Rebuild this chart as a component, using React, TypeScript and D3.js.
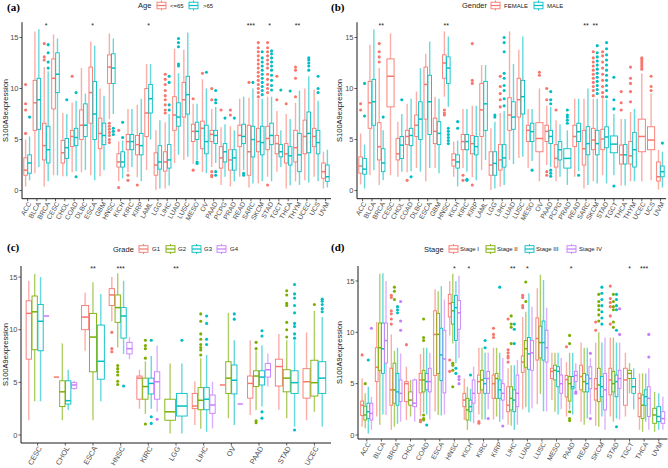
import React from "react";
import * as d3 from "d3";

const RED = "#F8766D", GREEN = "#7CAE00", CYAN = "#00BFC4", PURPLE = "#C77CFF";

type S = number[] | null;
type Out = [string, number[]][];

// ---------- Panel (a) / (b) categories ----------
const PANCAN = ["ACC","BLCA","BRCA","CESC","CHOL","COAD","DLBC","ESCA","GBM","HNSC","KICH","KIRC","KIRP","LAML","LGG","LIHC","LUAD","LUSC","MESO","OV","PAAD","PCPG","PRAD","READ","SARC","SKCM","STAD","TGCT","THCA","THYM","UCEC","UCS","UVM"];

// [lower whisker, Q1, median, Q3, upper whisker]
const AGE_LOW: S[] = [
  [0.4,1.5,2.0,3.2,5.0],[1.7,5.9,8.6,10.8,15.6],[0.4,3.0,4.4,6.6,12.1],[1.5,8.0,11.0,12.9,15.3],
  [1.4,2.7,3.7,4.9,7.6],[1.8,4.3,5.3,5.9,8.6],[1.8,5.0,6.4,7.9,12.0],[1.5,6.6,9.6,12.1,14.6],
  [1.4,4.1,5.6,7.1,10.0],[7.0,10.5,12.1,13.3,15.4],[0.9,2.3,2.8,3.6,4.8],[1.8,4.0,4.8,5.5,8.0],
  [1.3,3.5,4.5,5.4,8.4],[2.0,5.3,7.6,10.0,12.4],[0.05,1.5,2.5,3.7,5.9],[0.2,1.9,2.8,3.8,6.7],
  [2.7,5.9,7.4,9.2,13.9],[3.0,7.2,8.9,10.6,13.8],[2.6,4.8,5.8,6.5,8.5],[1.8,4.1,6.1,6.8,10.9],
  [2.3,4.8,5.5,5.9,8.0],[0.55,2.2,3.2,4.3,6.2],[0.4,2.0,3.0,4.0,6.3],[1.35,4.3,5.4,6.4,9.0],
  [0.3,1.5,3.8,6.4,9.1],[0.7,3.8,4.8,6.1,9.0],[1.35,4.0,5.1,6.3,9.2],[1.85,3.6,4.6,5.4,7.8],
  [0.2,2.7,3.6,4.6,7.5],[0.9,2.8,4.2,5.9,8.6],[1.0,3.6,5.3,6.9,10.0],[1.35,4.3,5.3,6.1,9.9],
  [0.2,1.2,1.85,2.7,3.8]
];
const AGE_HIGH: S[] = [
  [1.0,1.7,2.7,3.5,5.3],[2.3,6.0,8.9,11.0,15.8],[0.9,2.7,4.0,6.3,11.7],[1.5,9.6,11.4,13.5,14.9],
  [1.4,3.15,4.2,5.1,7.5],[1.9,4.4,5.2,6.1,8.8],[2.0,5.3,6.4,8.5,9.5],[1.0,5.0,7.5,10.7,14.2],
  [2.0,4.5,5.4,6.6,9.3],[7.5,10.5,12.0,13.4,14.9],[1.2,2.3,2.8,3.8,4.9],[2.3,4.0,4.8,5.5,8.0],
  [0.9,3.5,4.4,5.6,9.0],[5.0,7.6,9.0,10.4,12.4],[0.2,2.1,2.8,4.4,6.9],[0.5,2.2,3.0,4.5,7.5],
  [3.5,6.3,7.2,8.6,11.5],[3.3,7.5,9.4,11.2,15.5],[3.0,5.0,5.8,6.7,8.5],[1.7,3.6,4.8,6.4,10.0],
  [2.7,4.6,5.4,5.9,8.2],[1.35,2.8,3.8,4.6,6.5],[0.9,2.0,3.2,4.0,5.9],[2.0,4.6,5.3,6.5,9.2],
  [0.7,3.3,5.0,6.3,10.0],[0.9,3.5,4.7,6.3,9.0],[0.9,4.5,5.4,6.6,9.2],[2.3,3.3,3.8,4.5,5.9],
  [0.5,2.5,3.4,4.3,7.0],[0.55,1.85,3.5,5.6,9.8],[0.8,3.7,5.6,7.7,11.2],[0.9,3.6,4.7,5.9,8.8],
  [0.3,0.9,1.35,2.5,4.0]
];
const AGE_LOW_OUT: Out = [
  ["ACC",[5.6,7.9,8.5,10.4]],["BRCA",[12.8,13.1,14.4]],["COAD",[11.2]],
  ["HNSC",[6.6,6.3,6.0,5.7,5.4,5.0,4.7]],["KICH",[0.3,5.9]],["KIRC",[1.5,1.0]],["KIRP",[0.55]],
  ["LIHC",[7.6,7.9,8.4,8.9,9.3,9.8,10.4,10.9,11.4]],["MESO",[9.0,2.0]],["OV",[11.5]],
  ["PAAD",[1.85,1.5,1.35,8.9,10.0]],["PCPG",[7.9]],["PRAD",[7.4,7.9]],["SARC",[10.6]],
  ["SKCM",[9.2,9.6,10.0,10.4,10.8,11.2,11.6,12.0,12.4,12.8,13.2,13.6,14.0,14.5]],
  ["STAD",[0.55,9.6,10.0,10.4,10.9,11.4,12.0,12.4,12.8,13.2,13.6,14.0,14.5]],["TGCT",[8.9,11.2]],["THCA",[8.5]],
  ["THYM",[9.2,11.0,11.8,12.1]]
];
const AGE_HIGH_OUT: Out = [
  ["ACC",[7.2]],["BRCA",[12.0,12.6,13.5,14.3]],["CHOL",[8.9]],["COAD",[1.35,9.6]],
  ["HNSC",[6.1,5.8,5.5]],["KICH",[6.7,5.2]],["LIHC",[7.9,8.4,10.6,11.2]],
  ["LUAD",[12.2,12.4,14.1,14.5,14.9]],["MESO",[2.8,2.66]],["OV",[11.6]],
  ["PAAD",[1.85,1.5,8.6,8.9,9.8]],["PCPG",[7.1]],["PRAD",[7.1]],["READ",[1.7,1.5]],["SARC",[10.6]],
  ["SKCM",[9.4,9.8,10.2,10.6,11.0,11.4,11.8,12.2,12.6,13.0,13.6]],
  ["STAD",[9.85,10.3,10.8,11.3,11.8,12.2,12.6,13.0,13.4,13.7]],["TGCT",[9.85]],["THCA",[9.75]],
  ["UCEC",[11.8,12.2,12.5,12.8,13.0]],["UCS",[9.6,10.0,11.2]]
];
const SIG_AGE: [string, string][] = [["BRCA","*"],["ESCA","*"],["LAML","*"],["SARC","***"],["STAD","*"],["THYM","**"]];

const FEMALE: S[] = [
  [0.6,1.7,2.4,3.3,5.6],[1.5,6.1,8.6,10.7,14.3],[0.55,3.0,4.3,6.65,12.0],[1.5,8.2,11.2,12.9,15.4],
  [1.35,3.0,3.6,5.1,6.75],[1.8,4.5,5.3,5.9,8.5],[2.2,5.3,6.4,7.4,9.7],[0.9,7.0,10.4,12.1,13.4],
  [2.2,4.6,5.8,7.1,9.2],[9.2,11.0,12.5,13.3,15.6],[1.35,2.4,3.0,3.6,4.8],[2.2,4.0,4.8,5.5,8.0],
  [1.3,3.6,4.6,5.4,8.3],[2.0,5.3,7.9,10.5,12.3],[0.05,1.5,2.5,3.8,6.1],[0.4,2.0,3.0,4.5,7.6],
  [3.0,5.9,7.4,9.1,15.6],[3.2,7.2,8.9,11.0,13.8],[2.2,4.8,5.9,6.4,8.0],[0.9,3.8,5.1,6.65,10.0],
  [2.5,4.8,5.8,6.4,8.3],[0.9,2.3,3.15,4.5,6.9],null,[1.35,4.3,5.3,6.4,9.0],
  [0.2,2.5,4.1,5.9,9.0],[0.9,4.0,4.95,6.1,9.0],[1.5,4.0,5.05,6.0,9.0],null,
  [0.5,2.6,3.5,4.46,7.0],[0.9,2.6,3.4,4.8,7.7],[0.9,3.8,5.3,7.0,11.5],[1.0,4.0,4.95,6.25,9.5],
  [0.1,0.93,1.35,2.8,4.0]
];
const MALE: S[] = [
  [0.2,1.6,2.1,3.15,4.5],[2.0,6.4,8.7,10.9,15.8],[1.0,1.85,2.7,4.1,5.9],null,
  [1.85,3.15,4.45,5.3,7.5],[1.9,4.4,5.4,6.1,9.0],[1.85,5.0,7.0,8.7,12.0],[2.2,5.5,8.7,11.3,14.6],
  [1.7,4.5,5.6,6.75,9.0],[8.2,10.5,12.0,13.1,15.1],[0.4,2.2,2.8,3.5,4.9],[1.85,4.0,4.8,5.5,8.0],
  [1.0,3.5,4.3,5.3,8.3],[3.0,5.9,8.5,10.7,12.3],[0.2,1.5,2.66,3.8,6.75],[0.55,2.3,3.2,4.5,7.8],
  [2.6,6.0,7.2,8.7,12.4],[3.3,7.5,9.2,10.8,15.1],[2.9,4.8,5.77,6.6,8.0],null,
  [2.3,4.6,5.3,5.9,8.2],[1.35,3.0,4.0,4.8,6.5],[0.55,2.2,3.15,4.1,5.9],[1.9,4.8,5.77,6.6,9.0],
  [0.55,3.5,4.6,6.26,10.0],[0.7,3.5,4.6,5.9,9.0],[0.7,4.2,5.25,6.25,8.9],[1.5,3.7,4.55,5.35,7.5],
  [0.5,2.6,3.5,4.5,7.0],[0.9,2.3,4.0,5.7,8.0],null,null,
  [0.3,1.35,1.85,2.4,3.8]
];
const FEMALE_OUT: Out = [
  ["ACC",[7.9,8.5]],["BRCA",[12.6,13.1,13.6,14.4]],["COAD",[1.0]],["HNSC",[7.4,7.6,7.9]],
  ["KIRC",[1.5,1.0]],["KIRP",[0.55,10.5,10.8,14.4]],["LIHC",[8.2,8.9,9.5,10.2,11.2]],
  ["OV",[11.3,11.6]],["PAAD",[1.85,1.5,8.9,10.0]],["PCPG",[7.9]],
  ["SKCM",[9.3,9.8,10.2,10.6,11.0,11.4,11.8,12.2,12.6,13.0,13.6]],
  ["STAD",[9.2,9.6,10.2,10.8,11.4,12.0,12.6,13.2,13.6]],["THCA",[7.9,8.6,9.7]],
  ["THYM",[8.7,9.7,10.5,11.0,12.1]],["UCEC",[11.9,12.1,12.3,12.5,12.7,12.9,13.0]],["UCS",[9.8,10.2,11.2]]
];
const MALE_OUT: Out = [
  ["ACC",[7.3,10.5]],["BRCA",[7.2]],["CHOL",[8.9]],["COAD",[1.35]],["HNSC",[6.1,5.8,5.5,5.2,4.9,4.6]],
  ["KICH",[6.75,6.1]],["KIRC",[1.0,1.1]],["LGG",[7.2,7.4]],
  ["LIHC",[8.3,9.0,9.8,10.3,11.0,11.5,13.6,14.5,15.0]],["MESO",[2.0]],
  ["PAAD",[2.0,1.7,1.4,8.5,8.9,9.7]],["PRAD",[6.6,6.9,7.2,7.4,7.9]],["READ",[1.5]],
  ["SKCM",[9.5,9.9,10.3,10.7,11.1,11.5,11.9,12.3,12.7,13.1,13.5,14.2]],
  ["STAD",[9.2,9.8,10.3,10.8,11.3,11.8,12.3,12.8,13.3,13.9,14.5]],["TGCT",[0.45,8.0,8.9,11.1]],["UVM",[4.65]]
];
const SIG_GENDER: [string, string][] = [["BRCA","**"],["HNSC","**"],["SARC","**"],["SKCM","**"]];

// ---------- Panel (c) ----------
const GRADE_CATS = ["CESC","CHOL","ESCA","HNSC","KIRC","LGG","LIHC","OV","PAAD","STAD","UCEC"];
const G1: S[] = [
  [1.4,7.2,11.55,12.75,14.65],[5.5,5.5,5.5,5.5,5.5],[8.0,10.0,11.2,12.3,13.5],[10.8,12.3,13.3,13.9,15.0],
  [2.5,3.4,5.4,5.6,6.2],null,[0.95,2.5,2.75,3.95,5.1],[4.75,4.75,4.75,4.75,4.75],
  [1.9,3.5,4.9,5.6,9.0],[2.4,4.65,6.5,7.2,9.6],[1.4,3.5,5.06,6.3,9.75]
];
const G2: S[] = [
  [3.2,8.1,11.7,13.2,15.3],[1.4,2.7,4.1,5.15,8.7],[1.4,6.0,9.3,11.55,14.5],[8.3,10.7,12.1,13.3,15.35],
  [2.0,3.4,4.6,5.4,7.0],[0.15,1.4,2.2,3.4,6.8],[0.6,2.4,3.3,4.5,7.3],[1.6,3.95,5.4,6.96,11.6],
  [2.37,4.6,5.6,6.1,8.0],[1.6,4.1,5.4,6.2,9.0],[2.2,3.7,4.97,7.1,11.8]
];
const G3: S[] = [
  [3.2,8.0,10.8,12.4,15.0],[2.37,2.94,3.26,5.15,6.2],[3.2,5.3,7.0,10.44,13.4],[7.7,9.2,11.3,12.1,14.65],
  [2.5,3.9,4.9,5.4,7.5],[0.15,1.8,2.75,3.95,6.8],[0.3,2.4,3.4,4.5,7.6],[0.95,3.9,5.2,6.65,9.0],
  [2.7,4.75,5.5,6.1,8.5],[0.8,3.95,4.97,6.1,9.0],[0.8,3.95,5.4,6.96,11.2]
];
const G4: S[] = [
  [11.3,11.3,11.3,11.3,11.3],[4.3,4.43,4.75,4.97,5.15],null,[7.2,7.7,8.2,8.8,9.3],
  [2.2,3.4,5.06,6.0,8.5],null,[0.63,2.05,2.85,3.8,5.06],[2.94,2.94,2.94,2.94,2.94],
  [4.6,5.5,6.2,6.8,7.75],null,null
];
const G1_OUT: Out = [["HNSC",[9.75,8.2,7.9]]];
const G2_OUT: Out = [
  ["HNSC",[6.6,6.3,6.0,5.7,5.1,4.8]],["KIRC",[1.05,7.3,8.2,8.5,9.0]],
  ["LIHC",[7.6,8.07,8.3,8.6,9.1,9.6,10.8,11.5]],["PAAD",[1.36,1.17,8.2,8.8]],
  ["STAD",[9.3,10.0,10.7,12.3,12.5,13.3,13.7]],["UCEC",[12.4]]
];
const G3_OUT: Out = [
  ["HNSC",[4.65]],["KIRC",[1.74,1.1,9.0]],["LGG",[9.0]],["LIHC",[8.6,9.1,10.6,11.3]],["OV",[11.0,11.5]],
  ["PAAD",[2.2,1.6,9.4,9.9]],["STAD",[0.47,9.2,9.6,10.3,10.6,11.6,12.3,13.0,13.4,14.3]],
  ["UCEC",[11.7,12.0,12.4,12.7,12.9]]
];
const G4_OUT: Out = [["KIRC",[1.5]]];
const SIG_GRADE: [string, string][] = [["ESCA","**"],["HNSC","***"],["LGG","**"]];

// ---------- Panel (d) ----------
const STAGE_CATS = ["ACC","BLCA","BRCA","CHOL","COAD","ESCA","HNSC","KICH","KIRC","KIRP","LIHC","LUAD","LUSC","MESO","PAAD","READ","SKCM","STAD","TGCT","THCA","UVM"];
const ST1: S[] = [
  [0.8,1.9,2.9,3.3,5.5],[1.8,5.2,6.6,8.5,11.0],[0.5,2.9,4.4,6.5,9.8],[1.46,3.25,5.0,5.2,6.65],
  [1.8,4.1,5.36,6.0,7.9],[2.3,5.8,9.8,12.1,14.2],[9.7,11.5,12.8,13.7,15.0],[1.46,2.76,3.4,4.06,5.5],
  [2.0,4.06,5.2,5.84,8.5],[1.5,3.57,5.0,5.84,8.5],[1.0,2.27,2.9,4.7,6.5],[2.5,6.1,7.1,7.7,11.5],
  [3.0,7.3,9.4,11.4,14.3],[3.4,5.5,6.2,6.5,8.0],[1.8,3.7,5.4,5.8,7.1],[1.3,4.4,5.7,6.8,9.0],
  [0.9,3.4,4.5,5.5,9.0],[1.8,3.9,5.36,6.5,9.5],[1.8,2.9,5.36,6.5,8.0],[0.5,1.8,3.57,4.06,6.0],null
];
const ST2: S[] = [
  [0.65,1.46,1.95,2.8,4.06],[1.0,6.3,8.5,10.9,15.7],[0.8,3.1,4.4,7.0,8.2],[1.8,2.9,3.4,4.2,5.36],
  [2.2,4.2,5.36,6.3,8.5],[1.95,6.0,9.8,11.85,14.0],[8.9,10.8,12.1,12.9,15.7],[0.5,1.46,2.44,3.57,4.7],
  [1.5,4.4,5.36,6.3,8.5],[1.8,3.57,5.5,6.0,8.5],[0.9,2.44,3.57,4.7,6.8],[2.7,6.6,8.4,9.2,12.0],
  [4.0,7.5,9.0,10.6,15.6],[2.27,5.36,6.3,6.8,8.0],[2.5,3.3,5.0,5.7,8.0],[1.0,4.2,5.2,6.0,8.5],
  [0.8,3.25,4.87,6.5,10.0],[1.3,4.2,5.0,6.2,9.5],[4.06,5.5,6.0,6.3,7.0],[0.3,1.6,2.9,3.9,6.0],
  [0.3,1.14,1.95,2.6,4.2]
];
const ST3: S[] = [
  [0.15,1.6,2.27,3.1,4.7],[2.0,6.0,8.4,10.9,15.75],[1.1,2.9,4.2,6.0,8.5],null,
  [2.0,4.4,5.2,6.0,8.5],[1.9,5.3,7.8,10.4,14.5],[7.0,9.2,12.4,13.6,15.0],[1.3,2.27,2.76,3.4,4.5],
  [1.5,4.06,5.0,5.5,8.0],[1.3,3.57,4.4,5.36,8.0],[0.5,2.27,3.4,4.4,6.8],[2.2,6.4,7.9,9.5,13.8],
  [2.3,7.3,9.0,11.1,15.1],[2.0,4.7,6.2,6.65,8.0],[2.0,4.5,4.7,5.7,8.0],[1.6,4.2,5.0,5.84,8.5],
  [1.8,3.73,4.7,5.7,9.0],[1.6,3.73,5.2,5.84,9.0],[2.5,4.06,4.7,5.5,6.5],[1.3,2.9,3.73,4.4,6.0],
  [0.5,1.3,1.8,2.76,4.06]
];
const ST4: S[] = [
  [0.5,1.46,2.1,3.1,3.7],[1.95,7.0,9.2,10.9,15.0],[1.3,3.25,4.06,5.36,7.95],[1.3,2.76,3.1,5.36,5.5],
  [1.5,4.2,5.2,6.5,8.0],[2.0,4.1,7.4,10.2,13.2],[7.5,10.3,11.9,13.1,15.5],[1.14,3.1,4.06,5.36,6.65],
  [2.5,4.06,5.5,6.2,8.0],[1.5,3.4,4.06,5.0,7.5],[1.0,2.76,4.06,5.84,7.3],[2.6,6.3,8.0,9.2,12.5],
  [2.3,7.1,8.5,10.2,12.4],[2.5,4.06,5.0,5.84,7.5],[4.4,5.2,5.8,6.2,7.0],[2.0,4.5,5.5,6.65,7.5],
  [0.5,2.44,4.4,6.0,9.5],[1.5,4.55,5.5,6.3,9.0],null,[0.5,1.8,3.57,4.7,6.5],
  [0.5,1.14,1.6,2.27,3.73]
];
const ST1_OUT: Out = [
  ["ACC",[7.8]],["BRCA",[10.8,11.3,11.8,12.1,13.4,13.6]],["CHOL",[8.8]],["COAD",[1.46,1.3]],
  ["HNSC",[7.3,6.2]],["KIRC",[1.3,1.14]],["KIRP",[9.5,9.8,10.4]],["LIHC",[7.1,7.5,7.7,8.0,8.3,11.3]],
  ["LUAD",[12.4,12.6,13.4,13.6]],["PAAD",[8.6]],["SKCM",[10.2,11.0]],["STAD",[10.8,11.6,12.5,12.9,13.3,14.5]]
];
const ST2_OUT: Out = [
  ["ACC",[5.0]],["BRCA",[13.2,14.0,14.4]],["COAD",[1.95,1.6,1.46,9.2,9.5,11.3]],["HNSC",[7.0,6.8,6.3,4.7]],
  ["LIHC",[8.9,10.5,10.8,11.6]],["LUAD",[13.0,14.9]],["PAAD",[2.27,1.6,1.4,8.9,9.7]],
  ["SKCM",[11.1,11.7,12.2,12.6,13.0,13.7]],["STAD",[10.5,11.0,12.2,12.5,13.0,13.7]]
];
const ST3_OUT: Out = [
  ["ACC",[7.3]],["BRCA",[11.9,12.2,12.5]],["COAD",[0.97]],["HNSC",[6.5,6.0]],["KICH",[5.84]],
  ["KIRC",[8.5,9.2]],["KIRP",[14.4]],["LIHC",[8.9,10.3,10.8]],
  ["SKCM",[10.8,11.4,12.0,12.6,13.2,13.8,14.4]],["STAD",[0.8,10.2,12.2,12.6,13.2,13.7]]
];
const ST4_OUT: Out = [
  ["ACC",[10.4]],["BRCA",[10.2,11.1,13.0]],["HNSC",[5.7,5.4,5.0]],["KIRC",[1.6]],["KIRP",[0.88]],
  ["PAAD",[4.2,4.06]],["READ",[7.95,1.6]],["STAD",[9.8,12.3]],["THCA",[7.6,9.8]]
];
const SIG_STAGE: [string, string][] = [["HNSC","*"],["KICH","*"],["LIHC","**"],["LUAD","*"],["PAAD","*"],["TGCT","*"],["THCA","***"]];

const Y_TICKS = [0, 5, 10, 15];

type Group = { name: string; color: string; stats: S[]; out: Out };
type Frame = { x0: number; x1: number; yt: number; yb: number; dom: [number, number]; sigY: number; ytx: number; fs: number };
type Legend = { title: string; tx: number; y: number; keys: number[]; texts: number[] };

const SANS = "Liberation Sans, Arial, Helvetica, sans-serif";

function Panel({ tag, tagX, tagY, cats, groups, sig, f, lg }: { tag: string; tagX: number; tagY: number; cats: string[]; groups: Group[]; sig: [string, string][]; f: Frame; lg: Legend }) {
  const x = d3.scalePoint<string>().domain(cats).range([f.x0, f.x1]).padding(0.6);
  const y = d3.scaleLinear().domain(f.dom).range([f.yb, f.yt]);
  const total = x.step() * 0.85;
  const place = (ci: number, gi: number) => {
    const present = groups.map((g, k) => (g.stats[ci] ? k : -1)).filter((k) => k >= 0);
    const slot = total / present.length;
    const j = present.indexOf(gi);
    return { cx: (x(cats[ci]) as number) - total / 2 + slot * (j + 0.5), bw: slot * 0.9 };
  };
  const marks: React.ReactNode[] = [];
  cats.forEach((c, ci) => {
    groups.forEach((g, gi) => {
      const s = g.stats[ci];
      if (!s) return;
      const { cx, bw } = place(ci, gi);
      const [lo, q1, md, q3, hi] = s;
      marks.push(
        <g key={`${c}-${gi}`}>
          <line x1={cx} x2={cx} y1={y(lo)} y2={y(q1)} stroke={g.color} strokeWidth={1.4} strokeOpacity={0.6} />
          <line x1={cx} x2={cx} y1={y(q3)} y2={y(hi)} stroke={g.color} strokeWidth={1.4} strokeOpacity={0.6} />
          <rect x={cx - bw / 2} y={y(q3)} width={bw} height={Math.max(0, y(q1) - y(q3))} fill="white" stroke={g.color} strokeWidth={0.9} />
          <line x1={cx - bw / 2} x2={cx + bw / 2} y1={y(md)} y2={y(md)} stroke={g.color} strokeWidth={1.5} />
        </g>
      );
      const o = g.out.find((d) => d[0] === c);
      if (o) o[1].forEach((v, k) => marks.push(<circle key={`${c}-${gi}-o${k}`} cx={cx} cy={y(v)} r={1.55} fill={g.color} />));
    });
  });
  return (
    <g>
      <text x={tagX} y={tagY} fontFamily="Liberation Serif, Times New Roman, serif" fontWeight="bold" fontSize={11}>{tag}</text>
      <text x={lg.tx} y={lg.y} dy="0.35em" fontFamily={SANS} fontSize={7.5} fill="#222">{lg.title}</text>
      {groups.map((g, i) => (
        <g key={g.name}>
          <line x1={lg.keys[i] + 4.5} x2={lg.keys[i] + 4.5} y1={lg.y - 5} y2={lg.y + 5} stroke={g.color} strokeWidth={0.9} />
          <rect x={lg.keys[i]} y={lg.y - 3.3} width={9} height={6.6} fill="white" stroke={g.color} strokeWidth={0.9} />
          <line x1={lg.keys[i]} x2={lg.keys[i] + 9} y1={lg.y} y2={lg.y} stroke={g.color} strokeWidth={1.2} />
          <text x={lg.texts[i]} y={lg.y} dy="0.35em" fontFamily={SANS} fontSize={6} fill="#222">{g.name}</text>
        </g>
      ))}
      {marks}
      <line x1={f.x0} x2={f.x0} y1={f.yt} y2={f.yb} stroke="#000" strokeWidth={0.9} />
      <line x1={f.x0} x2={f.x1} y1={f.yb} y2={f.yb} stroke="#000" strokeWidth={0.9} />
      {Y_TICKS.map((t) => (
        <g key={t}>
          <line x1={f.x0 - 2.5} x2={f.x0} y1={y(t)} y2={y(t)} stroke="#333" strokeWidth={0.8} />
          <text x={f.x0 - 3.5} y={y(t)} dy="0.35em" textAnchor="end" fontFamily={SANS} fontSize={7.5} fill="#4D4D4D">{t}</text>
        </g>
      ))}
      {cats.map((c) => (
        <g key={c}>
          <line x1={x(c)} x2={x(c)} y1={f.yb} y2={f.yb + 2.5} stroke="#333" strokeWidth={0.8} />
          <text transform={`translate(${x(c)},${f.yb + 2.5}) rotate(-60)`} dy="0.71em" textAnchor="end" fontFamily={SANS} fontSize={f.fs} fill="#4D4D4D">{c}</text>
        </g>
      ))}
      {sig.map(([c, s]) => (
        <text key={c} x={x(c)} y={f.sigY} textAnchor="middle" fontFamily={SANS} fontSize={7} fill="#222">{s}</text>
      ))}
      <text transform={`translate(${f.ytx},${(f.yt + f.yb) / 2}) rotate(-90)`} dy="0.35em" textAnchor="middle" fontFamily={SANS} fontSize={7.5} fill="#222">S100A9expression</text>
    </g>
  );
}

export default function App() {
  const age: Group[] = [
    { name: "<=65", color: RED, stats: AGE_LOW, out: AGE_LOW_OUT },
    { name: ">65", color: CYAN, stats: AGE_HIGH, out: AGE_HIGH_OUT },
  ];
  const gender: Group[] = [
    { name: "FEMALE", color: RED, stats: FEMALE, out: FEMALE_OUT },
    { name: "MALE", color: CYAN, stats: MALE, out: MALE_OUT },
  ];
  const grade: Group[] = [
    { name: "G1", color: RED, stats: G1, out: G1_OUT },
    { name: "G2", color: GREEN, stats: G2, out: G2_OUT },
    { name: "G3", color: CYAN, stats: G3, out: G3_OUT },
    { name: "G4", color: PURPLE, stats: G4, out: G4_OUT },
  ];
  const stage: Group[] = [
    { name: "Stage I", color: RED, stats: ST1, out: ST1_OUT },
    { name: "Stage II", color: GREEN, stats: ST2, out: ST2_OUT },
    { name: "Stage III", color: CYAN, stats: ST3, out: ST3_OUT },
    { name: "Stage IV", color: PURPLE, stats: ST4, out: ST4_OUT },
  ];
  return (
    <svg width={668} height={468} style={{ position: "absolute", left: 0, top: 0, background: "white" }}>
      <rect width={668} height={468} fill="white" />
      <Panel tag="(a)" tagX={7} tagY={11} cats={PANCAN} groups={age} sig={SIG_AGE}
        f={{ x0: 22, x1: 331, yt: 22.2, yb: 198.7, dom: [-0.8, 16.5], sigY: 27.5, ytx: 5.5, fs: 6.8 }}
        lg={{ title: "Age", tx: 138, y: 5.5, keys: [157, 189], texts: [170, 203] }} />
      <Panel tag="(b)" tagX={331} tagY={11} cats={PANCAN} groups={gender} sig={SIG_GENDER}
        f={{ x0: 357, x1: 666, yt: 22.2, yb: 198.7, dom: [-0.8, 16.5], sigY: 27.5, ytx: 339.5, fs: 6.8 }}
        lg={{ title: "Gender", tx: 462, y: 5.5, keys: [491, 534], texts: [504, 547] }} />
      <Panel tag="(c)" tagX={7} tagY={251} cats={GRADE_CATS} groups={grade} sig={SIG_GRADE}
        f={{ x0: 21, x1: 331, yt: 266, yb: 443, dom: [-0.76, 16.05], sigY: 271, ytx: 5.5, fs: 7.3 }}
        lg={{ title: "Grade", tx: 113, y: 249, keys: [139, 166, 192, 217], texts: [152, 178, 204, 230] }} />
      <Panel tag="(d)" tagX={331} tagY={251} cats={STAGE_CATS} groups={stage} sig={SIG_STAGE}
        f={{ x0: 358, x1: 667.5, yt: 266, yb: 439, dom: [-0.39, 16.46], sigY: 271, ytx: 339.5, fs: 6.8 }}
        lg={{ title: "Stage", tx: 424, y: 249, keys: [449, 486, 525, 567], texts: [460, 497, 536, 579] }} />
    </svg>
  );
}
